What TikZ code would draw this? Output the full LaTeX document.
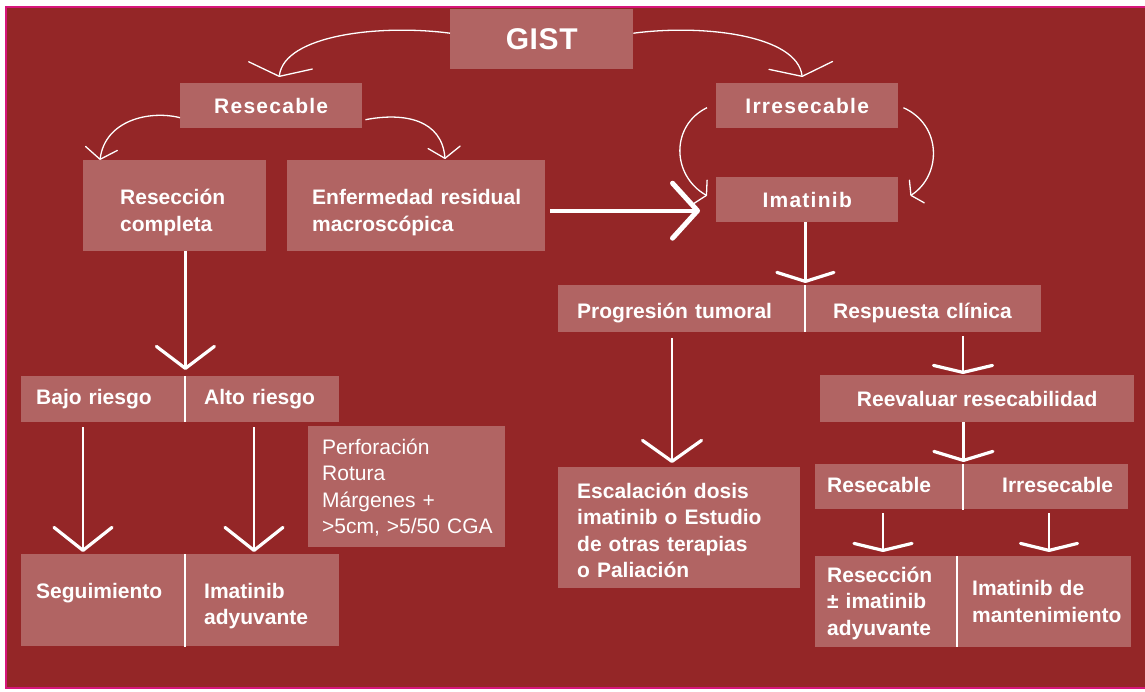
\documentclass[tikz,border=0pt]{standalone}
\usepackage{fontspec}
\setmainfont{Liberation Sans}
\newfontfamily\spcfont[LetterSpace=6]{Liberation Sans}
\newfontfamily\spcgist[LetterSpace=2]{Liberation Sans}
\usetikzlibrary{arrows.meta,calc}
\definecolor{bgred}{RGB}{148,38,39}
\definecolor{boxc}{RGB}{177,100,99}
\definecolor{mag}{RGB}{214,22,122}
\newcommand\txl[3]{\hspace*{#1pt}\raisebox{-#2pt}[\height][\depth]{\begin{tabular}[c]{@{}l@{}}#3\end{tabular}}}
\tikzset{
  box/.style={fill=boxc, draw=none, inner sep=0pt, anchor=north west, text=white,
    font=\bfseries\fontsize{21}{26.3}\selectfont},
  cbox/.style 2 args={box, minimum width=#1pt, minimum height=#2pt},
  lbox/.style 2 args={box, text width=#1pt, minimum height=#2pt, align=left},
  topfont/.style={font=\spcfont\bfseries\fontsize{21}{26}\selectfont},
  divline/.style={draw=white, line width=2pt},
  tharrow/.style 2 args={draw=white, line width=1.3pt,
    -{Straight Barb[length=#1pt,width=#2pt,line width=1.3pt,round]}},
  tkarrow/.style 2 args={draw=white, line width=2.4pt,
    -{Straight Barb[length=#1pt,width=#2pt,line width=3.2pt,round]}},
  bigarrow/.style 2 args={draw=white, line width=4pt,
    -{Straight Barb[length=#1pt,width=#2pt,line width=5pt,round]}},
}
\begin{document}
\begin{tikzpicture}[x=1pt,y=-1pt]
\useasboundingbox (0,0) rectangle (1145,691);
\fill[white] (0,0) rectangle (1145,691);
\begin{scope}
\clip (0,0) rectangle (1145,691);
\draw[draw=mag, line width=2pt, fill=bgred] (5.5,6.5) rectangle (1160,688);
\end{scope}

% top level
\node[cbox={183}{60}, font=\spcgist\bfseries\fontsize{30}{36}\selectfont] (gist) at (450,9) {GIST};
\node[cbox={182}{45}, topfont] (res) at (180,83) {Resecable};
\node[cbox={182}{45}, topfont] (irr) at (716,83) {Irresecable};
\node[lbox={183}{91}] (rc) at (83,160) {\txl{37}{7}{Resección\\completa}};
\node[lbox={258}{91}] (enf) at (287,160) {\txl{25}{7}{Enfermedad residual\\macroscópica}};
\node[cbox={182}{45}, topfont] (imat) at (716,177) {Imatinib};

% right branch
\node[lbox={247}{47}] (prog) at (558,285) {\txl{19}{5}{Progresión tumoral}};
\node[lbox={236}{47}] (resp) at (805,285) {\txl{28}{5}{Respuesta clínica}};
\node[cbox={314}{47}] (reev) at (820,375) {Reevaluar resecabilidad};
\node[lbox={148}{45}] (res2) at (815,464) {\txl{12}{1}{Resecable}};
\node[lbox={165}{45}] (irr2) at (963,464) {\txl{39}{1}{Irresecable}};
\node[lbox={142}{91}] (rpm) at (815,556) {\txl{12}{2}{Resección\\± imatinib\\adyuvante}};
\node[lbox={174}{91}] (mant) at (957,556) {\txl{15}{2}{Imatinib de\\mantenimiento}};
\node[lbox={242}{121}] (esc) at (558,467) {\txl{19}{5}{Escalación dosis\\imatinib o Estudio\\de otras terapias\\o Paliación}};

% left branch
\node[lbox={164}{46}] (bajo) at (21,376) {\txl{15}{0}{Bajo riesgo}};
\node[lbox={154}{46}] (alto) at (185,376) {\txl{19}{0}{Alto riesgo}};
\node[lbox={197}{121}, font=\fontsize{21}{26.6}\selectfont] (perf) at (308,426)
  {\txl{14}{2}{Perforación\\Rotura\\Márgenes +\\>5cm, >5/50 CGA}};
\node[lbox={164}{92}] (seg) at (21,554) {\txl{15}{6}{Seguimiento\\\mbox{}}};
\node[lbox={154}{92}] (ady) at (185,554) {\txl{19}{6}{Imatinib\\adyuvante}};

% dividers
\draw[divline] (bajo.north east) -- (bajo.south east);
\draw[divline] (seg.north east) -- ($(seg.south east)+(0,1)$);
\draw[divline] (prog.north east) -- (prog.south east);
\draw[divline] (res2.north east) -- ($(res2.south east)+(0,1)$);
\draw[divline] (rpm.north east) -- (rpm.south east);

% thin curved arrows
\draw[tharrow={11}{64}] ($(gist.west)+(0,-6)$) .. controls (380,24) and (284,35) .. ($(res.north)+(8,-6)$);
\draw[tharrow={11}{64}] ($(gist.east)+(0,-6)$) .. controls (703,24) and (797,35) .. ($(irr.north)+(-5,-6)$);
\draw[tharrow={11}{32}] ($(res.west)+(0,12)$) .. controls (150,110) and (105,120) .. ($(rc.north west)+(17,0)$);
\draw[tharrow={11}{32}] ($(res.east)+(3,14)$) .. controls (405,112) and (442,120) .. ($(enf.north west)+(158,-1)$);
\draw[tharrow={7}{27}] ($(irr.west)+(-9,2)$) .. controls (671,125) and (671,175) .. ($(imat.west)+(-9,-4)$);
\draw[tharrow={7}{27}] ($(irr.east)+(5,2)$) .. controls (942,125) and (942,175) .. ($(imat.east)+(12,-4)$);

% thick arrows
\draw[bigarrow={25}{55}] ($(enf.east)+(5,5)$) -- ($(imat.west)+(-16,11)$);
\draw[tkarrow={22}{58}] (rc.south -| bajo.north east) -- ($(bajo.north east)+(0,-6)$);
\draw[tkarrow={23}{58}] ($(bajo.south west)+(62,5)$) -- ($(seg.north west)+(62,-2)$);
\draw[tkarrow={23}{58}] ($(alto.south west)+(69,5)$) -- ($(ady.north west)+(69,-2)$);
\draw[tkarrow={9}{57}] (imat.south -| prog.north east) -- ($(prog.north east)+(0,-2)$);
\draw[tkarrow={21}{59}] ($(prog.south west)+(114,6)$) -- ($(esc.north west)+(114,-4)$);
\draw[tkarrow={7}{59}] ($(resp.south west)+(158,4)$) -- ($(reev.north west)+(143,-1)$);
\draw[tkarrow={9}{59}] (reev.south -| res2.north east) -- ($(res2.north east)+(0,-2)$);
\draw[tkarrow={7}{58}] ($(res2.south west)+(68,4)$) -- ($(rpm.north west)+(68,-4)$);
\draw[tkarrow={7}{57}] ($(irr2.south west)+(86,4)$) -- ($(mant.north west)+(92,-4)$);
\end{tikzpicture}
\end{document}
